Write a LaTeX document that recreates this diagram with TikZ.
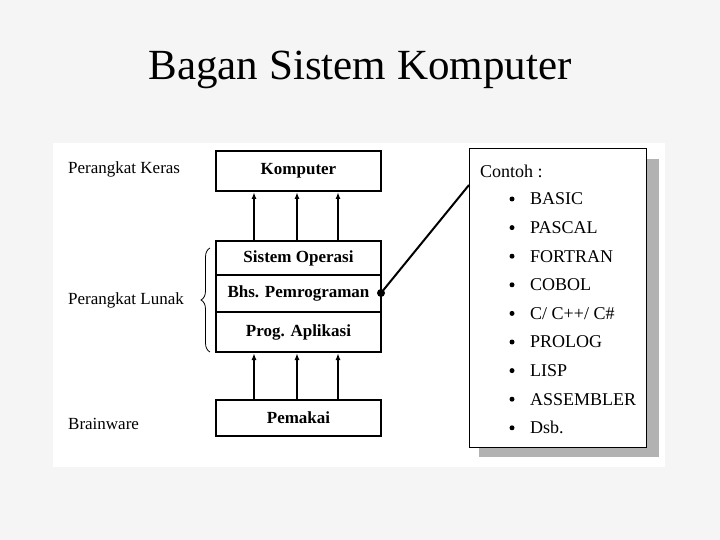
\documentclass[tikz,border=0pt]{standalone}
\usepackage{fontspec}
\setmainfont{Liberation Serif}
\usetikzlibrary{decorations.pathreplacing,arrows.meta}
\begin{document}
\begin{tikzpicture}[x=1pt,y=-1pt,
 box/.style={draw,line width=2pt,minimum width=165pt,anchor=north west,inner sep=0pt,font=\fontsize{17}{17}\selectfont\bfseries},
 lbl/.style={anchor=west,font=\fontsize{17}{17}\selectfont,inner sep=0pt},
 item/.style={anchor=west,font=\fontsize{18}{18}\selectfont,inner sep=0pt},
 arr/.style={-{Latex[length=7pt,width=5pt]},line width=1.5pt}]
\fill[gray!8] (0,0) rectangle (720,540);
\useasboundingbox (0,0) rectangle (720,540);
\fill[white] (53,143) rectangle (665,467);
\node[font=\fontsize{43}{43}\selectfont] (title) at (360,70) {Bagan Sistem Komputer};
\node[box,minimum height=40pt] (komp) at (215,150) {Komputer};
\node[box,minimum height=34pt] (so) at (215,240) {Sistem Operasi};
\node[box,minimum height=37pt] (bhs) at (215,274) {Bhs. Pemrograman};
\node[box,minimum height=40pt] (prog) at (215,311) {Prog. Aplikasi};
\node[box,minimum height=36pt] (pem) at (215,399) {Pemakai};
\foreach \x in {39,82,123}{
 \draw[arr] ([xshift=\x pt]so.north west) -- ([xshift=\x pt]komp.south west);
 \draw[arr] ([xshift=\x pt]pem.north west) -- ([xshift=\x pt]prog.south west);}
\node[lbl] (keras) at (68,169) {Perangkat Keras};
\node[lbl] (lunak) at (68,300) {Perangkat Lunak};
\node[lbl] (brain) at (68,424) {Brainware};
\draw[line width=0.8pt,decorate,decoration={brace,amplitude=9pt}] (210,352) -- (210,248);
\fill[gray!60] (479,159) rectangle (659,457);
\node[draw,fill=white,line width=0.8pt,minimum width=177pt,minimum height=299pt,anchor=north west] (contoh) at (469,148) {};
\node[anchor=west,font=\fontsize{18}{18}\selectfont,inner sep=0pt] (ct) at (480,171) {Contoh :};
\foreach \t [count=\i] in {BASIC,PASCAL,FORTRAN,COBOL,C/ C++/ C\#,PROLOG,LISP,ASSEMBLER,Dsb.}{
 \fill (512,{199+28.6*(\i-1)}) circle (2.5pt);
 \node[item] (it\i) at (530,{199+28.6*(\i-1)}) {\t};}
\coordinate (dot) at (381,293);
\fill (dot) circle (4pt);
\draw[line width=2pt] (dot) -- (contoh.north west |- 0,185);
\end{tikzpicture}
\end{document}
